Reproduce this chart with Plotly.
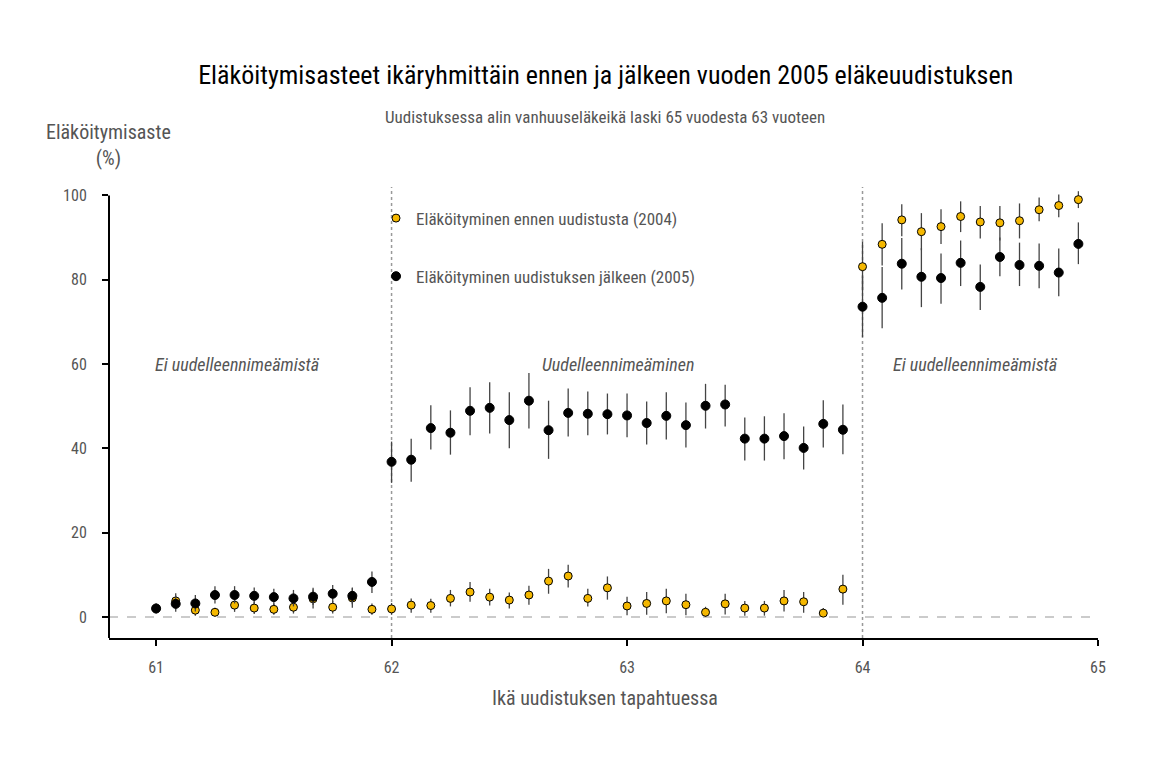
import plotly.graph_objects as go

ages = [61 + k / 12 for k in range(48)]

rate_2004 = [2.0, 3.8, 1.6, 1.1, 2.8, 2.1, 1.8, 2.3, 4.3, 2.3, 4.5, 1.8,
             1.9, 2.8, 2.7, 4.4, 5.9, 4.7, 4.0, 5.2, 8.5, 9.7, 4.4, 6.9,
             2.6, 3.2, 3.8, 2.9, 1.1, 3.1, 2.1, 2.1, 3.8, 3.6, 0.9, 6.6,
             83.1, 88.4, 94.2, 91.4, 92.6, 95.0, 93.7, 93.5, 94.0, 96.6, 97.6, 99.0]
low_2004 = [0.8, 1.8, 0.3, 0.1, 1.2, 0.7, 0.5, 0.8, 2.0, 0.8, 2.2, 0.5,
            0.5, 1.0, 1.0, 2.5, 3.6, 2.7, 2.0, 2.9, 5.5, 7.0, 2.5, 4.1,
            0.4, 0.5, 0.9, 0.4, 0.0, 0.6, 0.3, 0.3, 1.3, 1.0, 0.0, 2.9,
            77.5, 83.4, 90.3, 87.0, 88.5, 91.3, 89.8, 89.3, 89.8, 93.9, 94.8, 97.0]
high_2004 = [3.2, 5.6, 3.0, 2.2, 4.4, 3.6, 3.2, 3.8, 6.5, 3.8, 6.8, 3.2,
             3.3, 4.4, 4.3, 6.4, 8.3, 6.7, 5.8, 7.4, 11.4, 12.4, 6.7, 9.6,
             4.8, 5.9, 6.7, 5.5, 2.4, 5.5, 3.8, 3.8, 6.4, 5.9, 2.1, 10.0,
             89.0, 93.4, 97.9, 95.8, 96.7, 98.6, 97.5, 97.5, 98.1, 99.5, 100.2, 101.0]

rate_2005 = [2.0, 3.1, 3.2, 5.2, 5.2, 5.0, 4.7, 4.4, 4.8, 5.5, 5.0, 8.3,
             36.8, 37.3, 44.8, 43.7, 48.9, 49.6, 46.7, 51.3, 44.3, 48.4, 48.2, 48.1,
             47.8, 46.0, 47.7, 45.5, 50.1, 50.4, 42.3, 42.3, 42.9, 40.1, 45.8, 44.4,
             73.6, 75.7, 83.8, 80.7, 80.4, 84.0, 78.3, 85.4, 83.5, 83.3, 81.7, 88.5]
low_2005 = [0.9, 1.2, 1.3, 3.2, 3.2, 3.0, 2.8, 2.5, 2.8, 3.4, 3.0, 5.7,
            31.8, 32.1, 39.7, 38.5, 43.1, 43.5, 40.0, 44.7, 37.5, 42.8, 43.1, 43.3,
            42.6, 40.9, 42.1, 40.2, 44.7, 45.2, 37.1, 37.1, 37.4, 35.0, 40.2, 38.6,
            66.4, 68.5, 77.7, 73.5, 74.3, 78.5, 72.8, 80.8, 78.5, 78.0, 76.1, 83.7]
high_2005 = [3.2, 5.0, 5.2, 7.3, 7.3, 7.0, 6.7, 6.4, 6.9, 7.6, 7.0, 10.8,
             41.6, 42.3, 50.2, 49.0, 54.5, 55.7, 53.3, 57.9, 51.3, 54.2, 53.5, 53.0,
             53.0, 51.1, 53.3, 50.9, 55.3, 55.1, 47.3, 47.6, 48.3, 45.2, 51.4, 50.4,
             80.8, 83.0, 89.9, 87.5, 86.2, 89.3, 83.6, 90.0, 88.8, 88.6, 87.4, 93.6]

x_ticks = [61, 62, 63, 64, 65]
y_ticks = [0, 20, 40, 60, 80, 100]
reform_ages = [62, 64]
region_labels = ["Ei uudelleennimeämistä", "Uudelleennimeäminen", "Ei uudelleennimeämistä"]
region_x = [61.345, 62.96, 64.48]
series_names = ["Eläköityminen ennen uudistusta (2004)", "Eläköityminen uudistuksen jälkeen (2005)"]
title_text = "Eläköitymisasteet ikäryhmittäin ennen ja jälkeen vuoden 2005 eläkeuudistuksen"
subtitle_text = "Uudistuksessa alin vanhuuseläkeikä laski 65 vuodesta 63 vuoteen"

FONT = "Roboto Condensed, Liberation Sans Narrow, Open Sans, sans-serif"
GREY = "#555555"

fig = go.Figure()
for name, y, lo, hi, col, sz in [
    (series_names[0], rate_2004, low_2004, high_2004, "#F5B800", 8),
    (series_names[1], rate_2005, low_2005, high_2005, "#000000", 9),
]:
    fig.add_trace(go.Scatter(
        x=ages, y=y, mode="markers", name=name,
        marker=dict(color=col, size=sz, line=dict(color="black", width=1)),
        error_y=dict(type="data", symmetric=False,
                     array=[h - v for h, v in zip(hi, y)],
                     arrayminus=[v - l for v, l in zip(y, lo)],
                     color="#444444", thickness=1.3, width=0),
        legendgroup=name, cliponaxis=False,
    ))

for xr in reform_ages:
    fig.add_vline(x=xr, line=dict(color="#999999", width=1.5, dash="dot"), layer="below")
fig.add_hline(y=0, line=dict(color="#bbbbbb", width=1.5, dash="dash"), layer="below")
# capped y axis line (0..100 range end)
fig.add_shape(type="line", xref="paper", yref="y", x0=0, x1=0, y0=-5, y1=100,
              line=dict(color="black", width=2))

for lbl, xl in zip(region_labels, region_x):
    fig.add_annotation(x=xl, y=60, text=lbl, showarrow=False,
                       font=dict(family=FONT, size=18, color=GREY, style="italic"))

fig.update_layout(
    width=1172, height=767,
    plot_bgcolor="white", paper_bgcolor="white",
    margin=dict(l=101, r=82, t=179, b=137),
    font=dict(family=FONT, color=GREY, size=16),
    title=dict(text=title_text, x=0.510, xanchor="center", y=0.9126, yanchor="middle",
               font=dict(family=FONT, size=26, color="black")),
    showlegend=True,
    legend=dict(x=0.270, y=0.970, xanchor="left", yanchor="top", bgcolor="rgba(0,0,0,0)",
                font=dict(family=FONT, size=17, color=GREY), tracegroupgap=33,
                itemsizing="trace"),
    xaxis=dict(range=[60.8, 65.0], tickvals=x_ticks, showgrid=False, zeroline=False,
               showline=True, linecolor="black", linewidth=2, ticks="outside",
               ticklen=6, tickcolor="black", tickwidth=1.5, ticklabelstandoff=8,
               tickfont=dict(size=16, color=GREY)),
    yaxis=dict(range=[-5, 102], tickvals=y_ticks, showgrid=False, zeroline=False,
               showline=False, ticks="outside",
               ticklen=6, tickcolor="black", tickwidth=1.5, ticklabelstandoff=12,
               tickfont=dict(size=16, color=GREY)),
)
fig.add_annotation(xref="paper", yref="paper", x=0.5015, y=1.155, text=subtitle_text,
                   showarrow=False, xanchor="center", yanchor="middle",
                   font=dict(size=17, color=GREY))
fig.add_annotation(xref="paper", yref="paper", x=-0.001, y=1.094, text="Eläköitymisaste<br>(%)",
                   showarrow=False, align="center", xanchor="center", yanchor="middle",
                   font=dict(size=20, color=GREY))
fig.add_annotation(xref="paper", yref="paper", x=0.5015, y=-0.133, text="Ikä uudistuksen tapahtuessa",
                   showarrow=False, xanchor="center", yanchor="middle",
                   font=dict(size=20, color=GREY))

fig.write_html("out.html")
